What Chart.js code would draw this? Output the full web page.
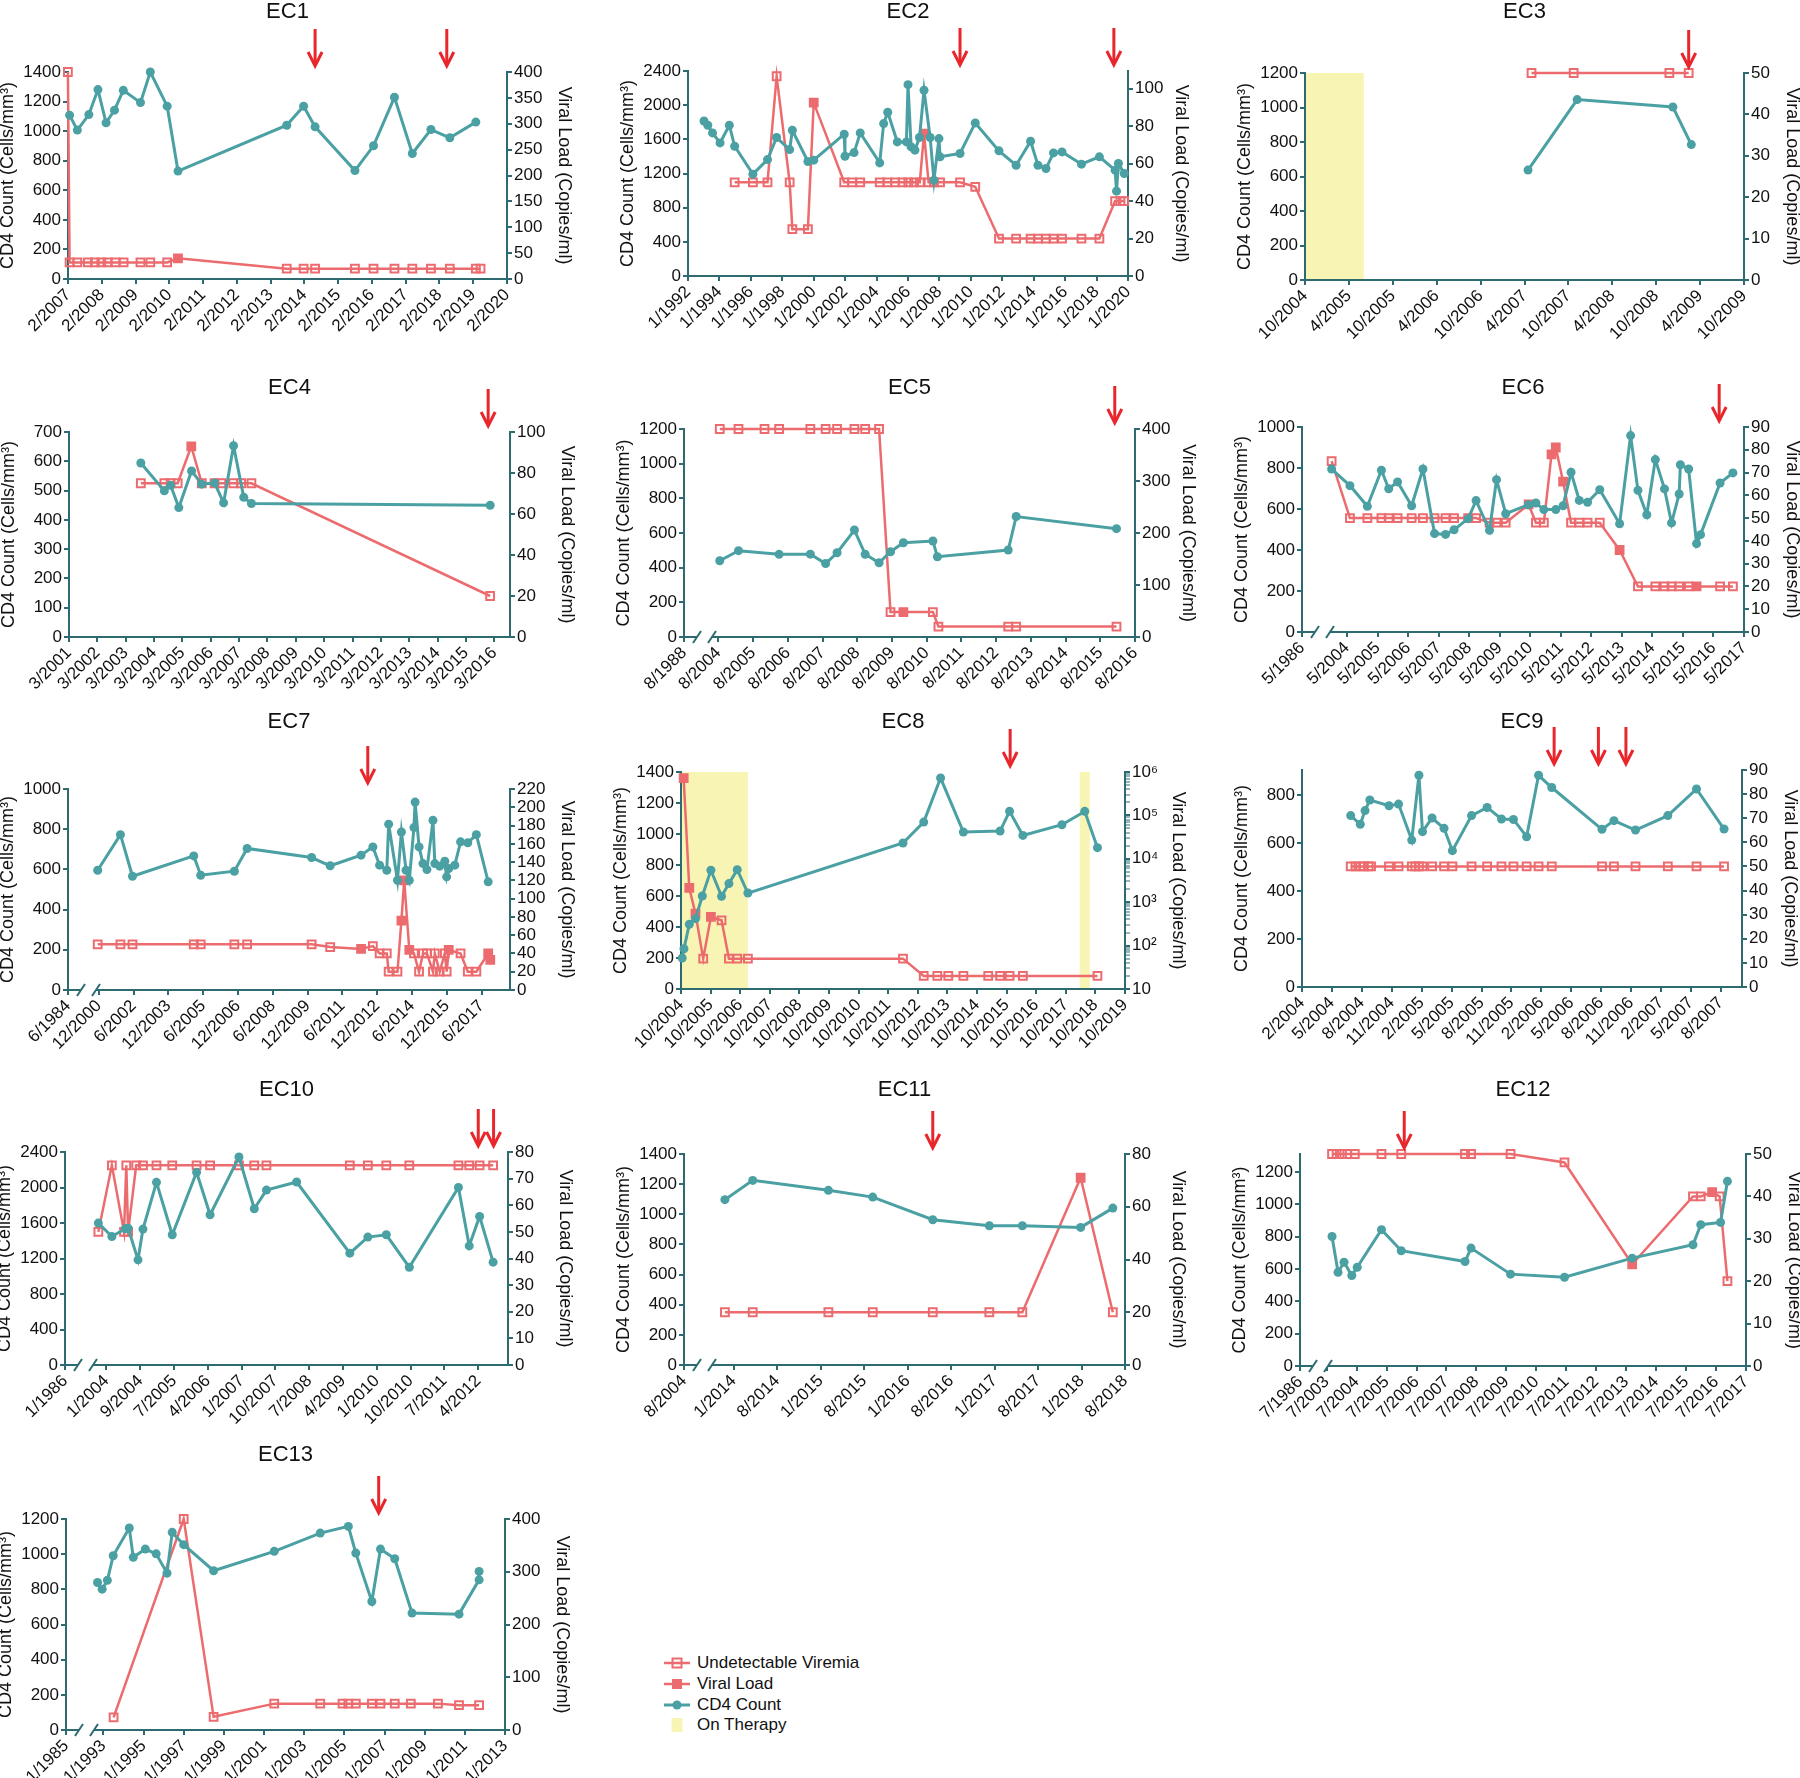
<!DOCTYPE html>
<html>
<head>
<meta charset="utf-8">
<script src="https://cdn.jsdelivr.net/npm/chart.js@4.4.1/dist/chart.umd.min.js"></script>
<style>
  body { margin: 0; background: #fff; width: 1800px; height: 1778px; position: relative; overflow: hidden;
         font-family: "Liberation Sans", Arial, sans-serif; }
  canvas { position: absolute; }
  #legend { position: absolute; left: 664px; top: 1653px; font-size: 17px; color: #111; }
  #legend .row { height: 20.7px; display: flex; align-items: center; }
  #legend svg { width: 26px; height: 14px; margin-right: 7px; }
</style>
</head>
<body>
<div id="legend">
  <div class="row"><svg viewBox="0 0 26 14"><line x1="0" y1="7" x2="26" y2="7" stroke="#ec6b6e" stroke-width="2.5"/><rect x="8.5" y="2.5" width="9" height="9" fill="none" stroke="#ec6b6e" stroke-width="2"/></svg><span>Undetectable Viremia</span></div>
  <div class="row"><svg viewBox="0 0 26 14"><line x1="0" y1="7" x2="26" y2="7" stroke="#ec6b6e" stroke-width="2.5"/><rect x="8" y="2" width="10" height="10" fill="#ec6b6e"/></svg><span>Viral Load</span></div>
  <div class="row"><svg viewBox="0 0 26 14"><line x1="0" y1="7" x2="26" y2="7" stroke="#4aa0a2" stroke-width="3"/><circle cx="13" cy="7" r="4.5" fill="#4aa0a2"/></svg><span>CD4 Count</span></div>
  <div class="row"><svg viewBox="0 0 26 14"><rect x="7.5" y="0" width="11" height="14" fill="#f8f5b4"/></svg><span>On Therapy</span></div>
</div>
<script>
// ---- data: [decimal year, value]; *Det = indices of detected viral loads (filled squares)
const ec1Ticks = ['2/2007','2/2008','2/2009','2/2010','2/2011','2/2012','2/2013','2/2014','2/2015','2/2016','2/2017','2/2018','2/2019','2/2020'];
const ec1Cd = [[2007.13,1108],[2007.36,1007],[2007.70,1112],[2007.97,1281],[2008.21,1056],[2008.46,1142],[2008.72,1276],[2009.23,1193],[2009.52,1400],[2010.02,1169],[2010.34,730],[2013.56,1040],[2014.06,1169],[2014.40,1029],[2015.58,733],[2016.13,901],[2016.75,1229],[2017.28,849],[2017.83,1011],[2018.39,955],[2019.16,1061]];
const ec1Vl = [[2007.08,400],[2007.13,32],[2007.36,32],[2007.67,32],[2007.88,32],[2008.07,32],[2008.25,32],[2008.49,32],[2008.73,32],[2009.23,32],[2009.52,32],[2010.02,32],[2010.34,40],[2013.56,20],[2014.06,20],[2014.40,20],[2015.58,20],[2016.13,20],[2016.75,20],[2017.28,20],[2017.83,20],[2018.39,20],[2019.16,20],[2019.30,20]];
const ec1Det = [12];
const ec1Arrows = [2014.40, 2018.30];

const ec2Ticks = ['1/1992','1/1994','1/1996','1/1998','1/2000','1/2002','1/2004','1/2006','1/2008','1/2010','1/2012','1/2014','1/2016','1/2018','1/2020'];
const ec2Cd = [[1993.02,1815],[1993.26,1765],[1993.56,1675],[1994.04,1558],[1994.63,1765],[1994.97,1519],[1996.13,1192],[1997.06,1363],[1997.64,1621],[1998.47,1480],[1998.64,1706],[1999.63,1340],[2000.00,1356],[2001.94,1660],[2001.99,1402],[2002.57,1445],[2002.96,1675],[2004.20,1324],[2004.45,1784],[2004.71,1917],[2005.32,1570],[2005.90,1570],[2006.00,2240],[2006.20,1511],[2006.44,1473],[2006.73,1621],[2007.02,2174],[2007.41,1621],[2007.65,1122],[2007.97,1609],[2008.04,1395],[2009.31,1434],[2010.28,1792],[2011.79,1465],[2012.88,1297],[2013.80,1578],[2014.27,1297],[2014.78,1258],[2015.26,1441],[2015.80,1453],[2017.04,1309],[2018.18,1395],[2019.18,1239],[2019.27,993],[2019.39,1317],[2019.76,1200]];
const ec2Vl = [[1994.97,50],[1996.13,50],[1997.06,50],[1997.64,106.6],[1998.47,50],[1998.64,25],[1999.63,25],[2000.00,92.5],[2001.94,50],[2002.45,50],[2002.96,50],[2004.20,50],[2004.69,50],[2005.17,50],[2005.66,50],[2006.02,50],[2006.39,50],[2006.75,50],[2007.02,76],[2007.31,50],[2007.65,50],[2008.04,50],[2009.31,50],[2010.28,47.6],[2011.79,20],[2012.88,20],[2013.80,20],[2014.27,20],[2014.78,20],[2015.26,20],[2015.80,20],[2017.04,20],[2018.18,20],[2019.18,40],[2019.52,40],[2019.76,40]];
const ec2Det = [7, 18];
const ec2Arrows = [2009.31, 2019.10];

const ec3Ticks = ['10/2004','4/2005','10/2005','4/2006','10/2006','4/2007','10/2007','4/2008','10/2008','4/2009','10/2009'];
const ec3Cd = [[2007.29,637],[2007.85,1046],[2008.94,1003],[2009.15,785]];
const ec3Vl = [[2007.33,50],[2007.81,50],[2008.90,50],[2009.12,50]];
const ec3Det = [];
const ec3Arrows = [2009.12];
const ec3Bands = [[2004.75, 2005.42]];

const ec4Ticks = ['3/2001','3/2002','3/2003','3/2004','3/2005','3/2006','3/2007','3/2008','3/2009','3/2010','3/2011','3/2012','3/2013','3/2014','3/2015','3/2016'];
const ec4Cd = [[2003.70,594],[2004.53,499],[2004.75,518],[2005.04,442],[2005.49,567],[2005.85,522],[2006.30,526],[2006.62,458],[2006.97,653],[2007.33,477],[2007.60,456],[2016.02,450]];
const ec4Vl = [[2003.70,75],[2004.53,75],[2004.75,75],[2005.00,75],[2005.48,93],[2005.85,75],[2006.30,75],[2006.54,75],[2006.96,75],[2007.24,75],[2007.60,75],[2016.02,20]];
const ec4Det = [4];
const ec4Arrows = [2015.95];

const ec5Ticks = ['8/1988','8/2004','8/2005','8/2006','8/2007','8/2008','8/2009','8/2010','8/2011','8/2012','8/2013','8/2014','8/2015','8/2016'];
const ec5Cd = [[2004.62,440],[2005.16,498],[2006.33,477],[2007.23,478],[2007.67,424],[2008.00,486],[2008.50,617],[2008.81,477],[2009.21,428],[2009.54,492],[2009.91,544],[2010.76,554],[2010.89,463],[2012.93,502],[2013.16,695],[2016.05,625]];
const ec5Vl = [[2004.62,400],[2005.16,400],[2005.91,400],[2006.33,400],[2007.23,400],[2007.67,400],[2008.00,400],[2008.50,400],[2008.81,400],[2009.21,400],[2009.54,48],[2009.91,48],[2010.76,48],[2010.92,20],[2012.93,20],[2013.16,20],[2016.05,20]];
const ec5Det = [11];
const ec5Arrows = [2016.0];

const ec6Ticks = ['5/1986','5/2004','5/2005','5/2006','5/2007','5/2008','5/2009','5/2010','5/2011','5/2012','5/2013','5/2014','5/2015','5/2016','5/2017'];
const ec6Cd = [[2003.83,795],[2004.43,714],[2005.00,613],[2005.46,789],[2005.70,699],[2005.99,732],[2006.45,616],[2006.82,795],[2007.20,480],[2007.56,476],[2007.84,499],[2008.30,553],[2008.56,641],[2009.00,496],[2009.23,743],[2009.53,577],[2010.28,621],[2010.52,629],[2010.78,597],[2011.17,597],[2011.41,616],[2011.67,779],[2011.94,642],[2012.21,633],[2012.61,694],[2013.26,528],[2013.62,958],[2013.86,691],[2014.15,572],[2014.43,841],[2014.73,698],[2014.96,532],[2015.21,673],[2015.25,816],[2015.52,795],[2015.78,431],[2015.91,475],[2016.55,727],[2016.97,776]];
const ec6Vl = [[2003.83,75],[2004.43,50],[2005.00,50],[2005.46,50],[2005.70,50],[2005.99,50],[2006.45,50],[2006.82,50],[2007.20,50],[2007.56,50],[2007.84,50],[2008.30,50],[2008.56,50],[2009.00,48],[2009.23,48],[2009.53,48],[2010.28,56],[2010.52,48],[2010.78,48],[2011.03,78],[2011.17,81],[2011.41,66],[2011.67,48],[2011.94,48],[2012.21,48],[2012.61,48],[2013.26,36],[2013.86,20],[2014.43,20],[2014.73,20],[2014.96,20],[2015.21,20],[2015.52,20],[2015.78,20],[2016.55,20],[2016.97,20]];
const ec6Det = [16, 19, 20, 21, 26, 33];
const ec6Arrows = [2016.52];

const ec7Ticks = ['6/1984','12/2000','6/2002','12/2003','6/2005','12/2006','6/2008','12/2009','6/2011','12/2012','6/2014','12/2015','6/2017'];
const ec7Cd = [[2000.87,596],[2001.85,773],[2002.37,566],[2005.01,667],[2005.31,571],[2006.76,591],[2007.31,704],[2010.09,659],[2010.89,618],[2012.22,671],[2012.73,712],[2013.02,621],[2013.33,596],[2013.41,825],[2013.79,546],[2013.96,786],[2014.16,596],[2014.30,546],[2014.50,808],[2014.55,935],[2014.72,712],[2014.89,629],[2015.06,599],[2015.32,844],[2015.40,629],[2015.61,616],[2015.83,641],[2015.91,563],[2016.00,604],[2016.26,621],[2016.51,737],[2016.82,732],[2017.19,773],[2017.70,538]];
const ec7Vl = [[2000.87,50],[2001.85,50],[2002.37,50],[2005.01,50],[2005.31,50],[2006.76,50],[2007.31,50],[2010.09,50],[2010.89,47],[2012.22,45],[2012.73,48],[2013.02,40],[2013.33,40],[2013.41,20],[2013.79,20],[2013.96,76],[2014.08,120],[2014.30,44],[2014.50,40],[2014.72,20],[2014.89,40],[2015.06,40],[2015.32,20],[2015.40,40],[2015.61,20],[2015.83,40],[2015.91,20],[2016.00,44],[2016.51,40],[2016.82,20],[2017.19,20],[2017.70,40],[2017.79,33]];
const ec7Det = [9, 15, 16, 17, 27, 31, 32];
const ec7Arrows = [2012.51];

const ec8Ticks = ['10/2004','10/2005','10/2006','10/2007','10/2008','10/2009','10/2010','10/2011','10/2012','10/2013','10/2014','10/2015','10/2016','10/2017','10/2018','10/2019'];
const ec8Cd = [[2004.79,200],[2004.85,260],[2005.03,417],[2005.24,454],[2005.47,600],[2005.76,766],[2006.12,598],[2006.37,680],[2006.65,770],[2007.01,619],[2012.25,942],[2012.95,1077],[2013.52,1361],[2014.29,1013],[2015.53,1019],[2015.85,1146],[2016.30,991],[2017.62,1060],[2018.39,1146],[2018.82,912]];
const ec8Vl = [[2004.84,720000],[2005.03,2130],[2005.24,546],[2005.50,50],[2005.76,457],[2006.12,383],[2006.37,50],[2006.65,50],[2007.01,50],[2012.25,50],[2012.95,20],[2013.41,20],[2013.78,20],[2014.29,20],[2015.13,20],[2015.53,20],[2015.85,20],[2016.30,20],[2018.82,20]];
const ec8Det = [0, 1, 2, 4];
const ec8Arrows = [2015.87];
const ec8Bands = [[2004.75, 2007.01], [2018.22, 2018.56]];

const ec9Ticks = ['2/2004','5/2004','8/2004','11/2004','2/2005','5/2005','8/2005','11/2005','2/2006','5/2006','8/2006','11/2006','2/2007','5/2007','8/2007'];
const ec9Cd = [[2004.49,714],[2004.57,678],[2004.61,735],[2004.65,779],[2004.81,755],[2004.89,762],[2005.00,612],[2005.06,882],[2005.09,647],[2005.17,704],[2005.27,661],[2005.34,568],[2005.50,714],[2005.63,748],[2005.75,700],[2005.85,698],[2005.96,626],[2006.06,882],[2006.17,831],[2006.59,657],[2006.69,693],[2006.87,654],[2007.14,714],[2007.38,825],[2007.61,658]];
const ec9Vl = [[2004.49,50],[2004.53,50],[2004.57,50],[2004.60,50],[2004.64,50],[2004.66,50],[2004.81,50],[2004.89,50],[2005.00,50],[2005.03,50],[2005.06,50],[2005.09,50],[2005.17,50],[2005.27,50],[2005.34,50],[2005.50,50],[2005.63,50],[2005.75,50],[2005.85,50],[2005.96,50],[2006.06,50],[2006.17,50],[2006.59,50],[2006.69,50],[2006.87,50],[2007.14,50],[2007.38,50],[2007.61,50]];
const ec9Det = [];
const ec9Arrows = [2006.19, 2006.56, 2006.79];

const ec10Ticks = ['1/1986','1/2004','9/2004','7/2005','4/2006','1/2007','10/2007','7/2008','4/2009','1/2010','10/2010','7/2011','4/2012'];
const ec10Cd = [[2003.82,1599],[2004.12,1448],[2004.42,1535],[2004.48,1542],[2004.70,1185],[2004.81,1531],[2005.11,2058],[2005.46,1467],[2006.00,2171],[2006.30,1693],[2006.94,2344],[2007.28,1761],[2007.55,1971],[2008.22,2062],[2009.40,1260],[2009.80,1441],[2010.21,1467],[2010.72,1102],[2011.81,2001],[2012.05,1343],[2012.28,1674],[2012.58,1159]];
const ec10Vl = [[2003.82,50],[2004.12,75],[2004.39,50],[2004.44,75],[2004.48,50],[2004.66,75],[2004.81,75],[2005.11,75],[2005.46,75],[2006.00,75],[2006.30,75],[2006.94,75],[2007.28,75],[2007.55,75],[2009.40,75],[2009.80,75],[2010.21,75],[2010.72,75],[2011.81,75],[2012.05,75],[2012.28,75],[2012.58,75]];
const ec10Det = [];
const ec10Arrows = [2012.25, 2012.59];

const ec11Ticks = ['8/2004','1/2014','8/2014','1/2015','8/2015','1/2016','8/2016','1/2017','8/2017','1/2018','8/2018'];
const ec11Cd = [[2013.90,1097],[2014.22,1225],[2015.09,1159],[2015.60,1114],[2016.29,964],[2016.94,924],[2017.32,924],[2017.99,913],[2018.36,1041]];
const ec11Vl = [[2013.90,20],[2014.22,20],[2015.09,20],[2015.60,20],[2016.29,20],[2016.94,20],[2017.32,20],[2017.99,71],[2018.36,20]];
const ec11Det = [7];
const ec11Arrows = [2016.29];

const ec12Ticks = ['7/1986','7/2003','7/2004','7/2005','7/2006','7/2007','7/2008','7/2009','7/2010','7/2011','7/2012','7/2013','7/2014','7/2015','7/2016','7/2017'];
const ec12Cd = [[2003.68,801],[2003.88,580],[2004.08,642],[2004.34,560],[2004.52,611],[2005.33,843],[2005.99,713],[2008.12,646],[2008.32,729],[2009.64,568],[2011.44,549],[2013.70,667],[2015.73,750],[2015.99,874],[2016.65,888],[2016.88,1142]];
const ec12Vl = [[2003.68,50],[2003.83,50],[2004.01,50],[2004.19,50],[2004.44,50],[2005.33,50],[2005.99,50],[2008.12,50],[2008.32,50],[2009.64,50],[2011.44,48],[2013.70,24],[2015.73,40],[2015.99,40],[2016.37,41],[2016.62,40],[2016.88,20]];
const ec12Det = [11, 14];
const ec12Arrows = [2006.09];

const ec13Ticks = ['1/1985','1/1993','1/1995','1/1997','1/1999','1/2001','1/2003','1/2005','1/2007','1/2009','1/2011','1/2013'];
const ec13Cd = [[1992.71,839],[1992.94,801],[1993.20,851],[1993.49,991],[1994.29,1149],[1994.49,982],[1995.09,1029],[1995.63,1002],[1996.17,892],[1996.43,1124],[1997.00,1054],[1998.49,906],[2001.51,1016],[2003.80,1120],[2005.20,1158],[2005.57,1006],[2006.37,731],[2006.80,1029],[2007.51,974],[2008.37,665],[2010.71,659],[2011.71,854],[2011.71,902]];
const ec13Vl = [[1993.51,24],[1997.00,400],[1998.49,25],[2001.51,50],[2003.80,50],[2004.91,50],[2005.20,50],[2005.57,50],[2006.37,50],[2006.80,50],[2007.51,50],[2008.31,50],[2009.66,50],[2010.71,47],[2011.71,47]];
const ec13Det = [];
const ec13Arrows = [2006.71];

// axis ranges: [axis max, tick step, last tick]; EC8 right axis is log 10..10^6
const leftAxes  = [[1400,200,1400],[2400,400,2400],[1200,200,1200],[700,100,700],[1200,200,1200],[1000,200,1000],[1000,200,1000],[1400,200,1400],[904,200,800],[2400,400,2400],[1400,200,1400],[1311,200,1200],[1200,200,1200]];
const rightAxes = [[400,50,400],[109.4,20,100],[50,10,50],[100,20,100],[400,100,400],[90,10,90],[220,20,220],null,[90,10,90],[80,10,80],[80,20,80],[50,10,50],[400,100,400]];
// x ranges: [left edge, right edge, tick step in years]; left edge of broken axes holds the first label
const xRanges = [[2007.083,2020.083,1],[1992,2020,2],[2004.75,2009.75,0.5],[2001.167,2016.72,1],[2003.59,2016.583,1],[2002.86,2017.333,1],[1999.59,2018.64,1.5],[2004.75,2019.75,1],[2004.083,2007.76,0.25],[2003.08,2012.91,0.75],[2013.43,2018.5,0.5],[2002.61,2017.5,1],[1991.14,2013,2]];
const broken = [0,0,0,0,1,1,1,0,0,1,1,1,1];

// ---- layout (page px): plot box [left, top, right, bottom] and title centre y
const boxes = [[68,72,507,279],[688,71,1128,276],[1305,73,1744,280],[69,432,510,637],[684,429,1135,637],[1302,427,1744,632],[68,789,510,990],[681,772,1125,989],[1302,770,1742,987],[65,1152,508,1365],[684,1154,1125,1365],[1300,1154,1746,1366],[66,1519,505,1730]];
const titleYs = [12,12,12,388,388,388,722,722,722,1090,1090,1090,1455];
const rightWidths = [68, 64, 59];   // right-axis box width per column

const AXIS = '#2d6b70', TEAL = '#4aa0a2', RED = '#ec6b6e', ARROW = '#e8262c', BAND = '#f8f5b4';
const FONT = '"Liberation Sans", Arial, sans-serif';
const LW = 71, BH = 75;

const panels = [
  ['EC1', ec1Ticks, ec1Cd, ec1Vl, ec1Det, ec1Arrows, []],
  ['EC2', ec2Ticks, ec2Cd, ec2Vl, ec2Det, ec2Arrows, []],
  ['EC3', ec3Ticks, ec3Cd, ec3Vl, ec3Det, ec3Arrows, ec3Bands],
  ['EC4', ec4Ticks, ec4Cd, ec4Vl, ec4Det, ec4Arrows, []],
  ['EC5', ec5Ticks, ec5Cd, ec5Vl, ec5Det, ec5Arrows, []],
  ['EC6', ec6Ticks, ec6Cd, ec6Vl, ec6Det, ec6Arrows, []],
  ['EC7', ec7Ticks, ec7Cd, ec7Vl, ec7Det, ec7Arrows, []],
  ['EC8', ec8Ticks, ec8Cd, ec8Vl, ec8Det, ec8Arrows, ec8Bands],
  ['EC9', ec9Ticks, ec9Cd, ec9Vl, ec9Det, ec9Arrows, []],
  ['EC10', ec10Ticks, ec10Cd, ec10Vl, ec10Det, ec10Arrows, []],
  ['EC11', ec11Ticks, ec11Cd, ec11Vl, ec11Det, ec11Arrows, []],
  ['EC12', ec12Ticks, ec12Cd, ec12Vl, ec12Det, ec12Arrows, []],
  ['EC13', ec13Ticks, ec13Cd, ec13Vl, ec13Det, ec13Arrows, []]
];

function parseTick(s) { const [m, y] = s.split('/').map(Number); return y + (m - 1) / 12; }
function steps(last, step) { const a = []; for (let v = 0; v <= last + 1e-6; v += step) a.push(Math.round(v * 1000) / 1000); return a; }

const tickFont = { family: FONT, size: 17 };
const titleFont = { family: FONT, size: 18 };
const supers = { 10: '10', 100: '10\u00b2', 1000: '10\u00b3', 10000: '10\u2074', 100000: '10\u2075', 1000000: '10\u2076' };
const logTicks = [];
for (let d = 10; d < 1e6; d *= 10) for (let k = 1; k < 10; k++) logTicks.push(d * k);
logTicks.push(1e6);

function decor(name, arrows, bands, brk) {
  return {
    id: 'decor',
    beforeDatasetsDraw(chart) {
      const { ctx, chartArea: a, scales: { x } } = chart;
      ctx.save();
      ctx.fillStyle = BAND;
      bands.forEach(([s, e]) => {
        const x0 = Math.max(x.getPixelForValue(s), a.left + 1), x1 = x.getPixelForValue(e);
        ctx.fillRect(x0, a.top, x1 - x0, a.bottom - a.top - 1);
      });
      ctx.restore();
    },
    afterDraw(chart) {
      const { ctx, chartArea: a, scales: { x } } = chart;
      ctx.save();
      ctx.fillStyle = '#111';
      ctx.font = '22px ' + FONT;
      ctx.textAlign = 'center';
      ctx.textBaseline = 'middle';
      ctx.fillText(name, (a.left + a.right) / 2, 14);
      // red arrows above the plot
      ctx.strokeStyle = ARROW;
      ctx.lineWidth = 3;
      arrows.forEach(v => {
        const px = x.getPixelForValue(v), y0 = a.top - 43, y1 = a.top - 6;
        ctx.beginPath(); ctx.moveTo(px, y0); ctx.lineTo(px, y1 - 2); ctx.stroke();
        ctx.beginPath(); ctx.moveTo(px - 7, y1 - 14); ctx.lineTo(px, y1); ctx.lineTo(px + 7, y1 - 14); ctx.stroke();
      });
      // axis break marks
      if (brk) {
        const y = a.bottom, b1 = a.left + 13, b2 = a.left + 28;
        ctx.fillStyle = '#fff';
        ctx.fillRect(b1, y - 2, b2 - b1, 4);
        ctx.strokeStyle = AXIS;
        ctx.lineWidth = 2;
        [b1, b2].forEach(bx => { ctx.beginPath(); ctx.moveTo(bx - 4, y + 6); ctx.lineTo(bx + 4, y - 6); ctx.stroke(); });
      }
      ctx.restore();
    }
  };
}

panels.forEach(([name, ticks, cd, vl, det, arrows, bands], i) => {
  const [l, t, r, b] = boxes[i];
  const RW = rightWidths[i % 3];
  const left = l - LW, top = titleYs[i] - 14;
  const TP = t - top;
  const W = LW + (r - l) + RW, H = TP + (b - t) + BH;
  const cv = document.createElement('canvas');
  cv.width = W; cv.height = H;
  cv.style.left = left + 'px'; cv.style.top = top + 'px';
  document.body.appendChild(cv);

  const [xMin, xMax, xStep] = xRanges[i];
  const brk = broken[i] === 1;
  const first = parseTick(ticks[brk ? 1 : 0]);
  const xVals = ticks.map((s, k) => brk ? (k === 0 ? xMin : first + (k - 1) * xStep) : first + k * xStep);

  const gridOpts = { display: true, drawOnChartArea: false, tickLength: 5, color: AXIS, lineWidth: 2 };
  const [lMax, lStep, lLast] = leftAxes[i];
  const yScale = {
    position: 'left', min: 0, max: lMax,
    afterBuildTicks: s => { s.ticks = steps(lLast, lStep).map(v => ({ value: v })); },
    afterFit: s => { s.width = LW; },
    ticks: { color: '#111', font: tickFont, padding: 2, autoSkip: false, callback: v => String(v) },
    grid: gridOpts, border: { color: AXIS, width: 2 },
    title: { display: true, text: 'CD4 Count (Cells/mm\u00b3)', color: '#111', font: titleFont, padding: 0 }
  };
  const ra = rightAxes[i];
  const y1Scale = ra ? {
    position: 'right', min: 0, max: ra[0],
    afterBuildTicks: s => { s.ticks = steps(ra[2], ra[1]).map(v => ({ value: v })); },
    ticks: { color: '#111', font: tickFont, padding: 2, autoSkip: false, callback: v => String(v) }
  } : {
    type: 'logarithmic', position: 'right', min: 10, max: 1e6,
    afterBuildTicks: s => { s.ticks = logTicks.map(v => ({ value: v })); },
    ticks: { color: '#111', font: tickFont, padding: 2, autoSkip: false, callback: v => supers[v] || '' }
  };
  Object.assign(y1Scale, {
    afterFit: s => { s.width = RW; },
    grid: Object.assign({}, gridOpts, ra ? {} : { tickWidth: c => (supers[c.tick && c.tick.value] ? 2 : 1) }),
    border: { color: AXIS, width: 2 },
    title: { display: true, text: 'Viral Load (Copies/ml)', color: '#111', font: titleFont, padding: 0 }
  });

  new Chart(cv, {
    type: 'line',
    data: {
      datasets: [
        {
          data: cd.map(([x, y]) => ({ x, y })), yAxisID: 'y', order: 0,
          borderColor: TEAL, backgroundColor: TEAL, borderWidth: 3,
          pointRadius: 4.5, pointBackgroundColor: TEAL, pointBorderColor: TEAL, pointBorderWidth: 0, clip: false
        },
        {
          data: vl.map(([x, y]) => ({ x, y })), yAxisID: 'y1', order: 1,
          borderColor: RED, backgroundColor: RED, borderWidth: 2.5,
          pointStyle: 'rect', pointRadius: 5.5, pointBorderWidth: 2, pointBorderColor: RED,
          pointBackgroundColor: vl.map((_, k) => det.includes(k) ? RED : 'rgba(255,255,255,0)'), clip: false
        }
      ]
    },
    options: {
      responsive: false, animation: false, devicePixelRatio: 1,
      layout: { padding: { top: TP, left: 0, right: 0, bottom: 0 } },
      plugins: { legend: { display: false }, tooltip: { enabled: false } },
      scales: {
        x: {
          type: 'linear', min: xMin, max: xMax,
          afterBuildTicks: s => { s.ticks = xVals.map(v => ({ value: v })); },
          afterFit: s => { s.height = BH; },
          ticks: { autoSkip: false, minRotation: 45, maxRotation: 45, padding: 1, color: '#111', font: tickFont,
                   callback: (v, k) => ticks[k] },
          grid: gridOpts, border: { color: AXIS, width: 2 }
        },
        y: yScale,
        y1: y1Scale
      }
    },
    plugins: [decor(name, arrows, bands, brk)]
  });
});
</script>
</body>
</html>
